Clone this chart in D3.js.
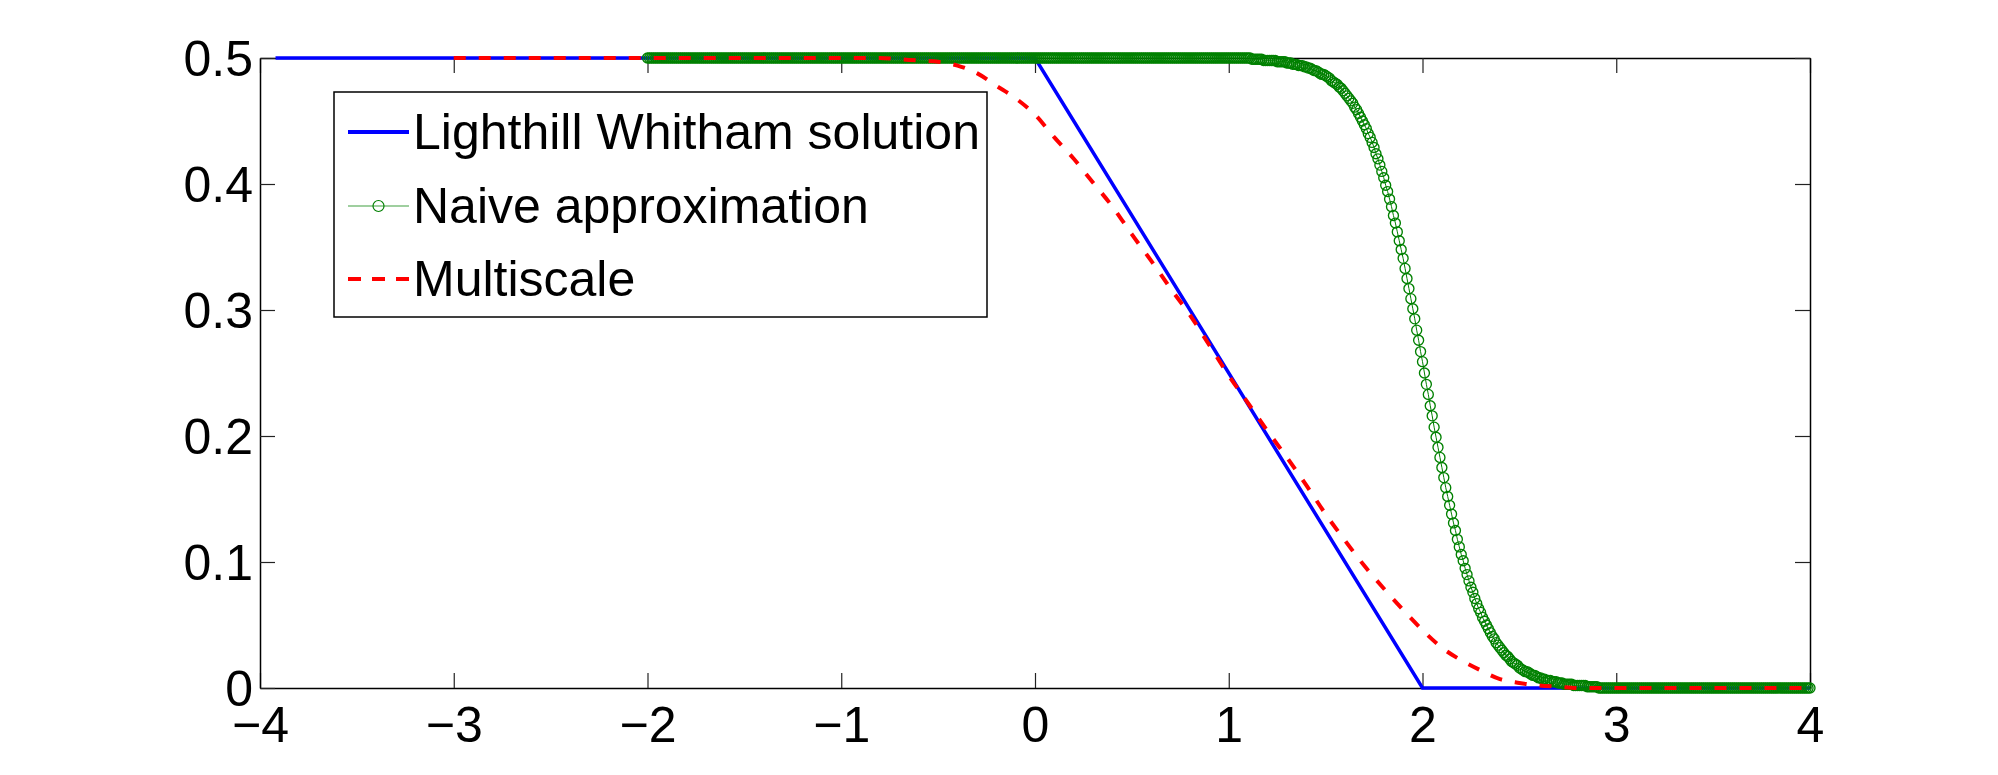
<!DOCTYPE html>
<html>
<head>
<meta charset="utf-8">
<script src="https://cdn.jsdelivr.net/npm/d3@7"></script>
<style>
  html, body { margin: 0; padding: 0; background: #fff; }
  svg { display: block; }
  text { font-family: "Liberation Sans", Arial, Helvetica, sans-serif; }
</style>
</head>
<body>
<svg id="chart" width="1998" height="775"></svg>
<script>
// ---------------- DATA ----------------
const xTicks = [-4, -3, -2, -1, 0, 1, 2, 3, 4];
const yTicks = [0, 0.1, 0.2, 0.3, 0.4, 0.5];
const legendLabels = ["Lighthill Whitham solution", "Naive approximation", "Multiscale"];

// Lighthill Whitham solution (piecewise linear)
const lwX = [-3.92, 0, 2, 4];
const lwY = [0.5, 0.5, 0, 0];

// Naive approximation: samples every 0.01 from x = -2 to x = 4
const naiveXStart = -2, naiveXStep = 0.01;
const naiveY = [
.5,.5,.5,.5,.5,.5,.5,.5,.5,.5,.5,.5,.5,.5,.5,.5,.5,.5,.5,.5,
.5,.5,.5,.5,.5,.5,.5,.5,.5,.5,.5,.5,.5,.5,.5,.5,.5,.5,.5,.5,
.5,.5,.5,.5,.5,.5,.5,.5,.5,.5,.5,.5,.5,.5,.5,.5,.5,.5,.5,.5,
.5,.5,.5,.5,.5,.5,.5,.5,.5,.5,.5,.5,.5,.5,.5,.5,.5,.5,.5,.5,
.5,.5,.5,.5,.5,.5,.5,.5,.5,.5,.5,.5,.5,.5,.5,.5,.5,.5,.5,.5,
.5,.5,.5,.5,.5,.5,.5,.5,.5,.5,.5,.5,.5,.5,.5,.5,.5,.5,.5,.5,
.5,.5,.5,.5,.5,.5,.5,.5,.5,.5,.5,.5,.5,.5,.5,.5,.5,.5,.5,.5,
.5,.5,.5,.5,.5,.5,.5,.5,.5,.5,.5,.5,.5,.5,.5,.5,.5,.5,.5,.5,
.5,.5,.5,.5,.5,.5,.5,.5,.5,.5,.5,.5,.5,.5,.5,.5,.5,.5,.5,.5,
.5,.5,.5,.5,.5,.5,.5,.5,.5,.5,.5,.5,.5,.5,.5,.5,.5,.5,.5,.5,
.5,.5,.5,.5,.5,.5,.5,.5,.5,.5,.5,.5,.5,.5,.5,.5,.5,.5,.5,.5,
.5,.5,.5,.5,.5,.5,.5,.5,.5,.5,.5,.5,.5,.5,.5,.5,.5,.5,.5,.5,
.5,.5,.5,.5,.5,.5,.5,.5,.5,.5,.5,.5,.5,.5,.5,.5,.5,.5,.5,.5,
.5,.5,.5,.5,.5,.5,.5,.5,.5,.5,.5,.5,.5,.5,.5,.5,.5,.5,.5,.5,
.5,.5,.5,.5,.5,.5,.5,.5,.5,.5,.5,.5,.5,.5,.5,.5,.5,.5,.5,.5,
.5,.5,.5,.5,.5,.5,.5,.5,.5,.5,.5,.5,
.499,.499,.499,.499,.499,.499,
.498,.498,.498,.498,.498,.498,.498,
.497,.497,.497,.497,.497,
.496,.496,.496,.495,.495,.495,.494,.494,.494,
.493,.493,.492,.492,.491,.490,.490,.489,.488,.487,.487,.486,
.485,.484,.482,.481,.480,.479,.477,.476,.474,.472,
.470,.468,.466,.464,.461,.459,.456,.453,.450,.447,
.444,.440,.437,.433,.429,.424,.420,.415,.410,.405,
.399,.394,.388,.382,.375,.369,.362,.355,.348,.341,
.333,.325,.317,.309,.301,.293,.284,.276,.267,.259,
.250,.241,.233,.224,.216,.207,.199,.191,.183,.175,
.167,.159,.152,.145,.138,.131,.125,.118,.112,.106,
.101,.095,.090,.085,.080,.076,.071,.067,.063,.060,
.056,.053,.050,.047,.044,.041,.039,.036,.034,.032,
.030,.028,.026,.025,.023,.021,.020,.019,.018,.016,
.015,.014,.013,.013,.012,.011,.010,.010,.009,.008,
.008,.007,.007,.006,.006,.006,.005,.005,.005,.004,
.004,.004,.003,.003,.003,.003,.003,.002,.002,.002,
.002,.002,.002,.002,.001,.001,.001,.001,.001,.001,
0,0,0,0,0,0,0,0,0,0,
0,0,0,0,0,0,0,0,0,0,
0,0,0,0,0,0,0,0,0,0,
0,0,0,0,0,0,0,0,0,0,
0,0,0,0,0,0,0,0,0,0,
0,0,0,0,0,0,0,0,0,0,
0,0,0,0,0,0,0,0,0,0,
0,0,0,0,0,0,0,0,0,0,
0,0,0,0,0,0,0,0,0,0,
0,0,0,0,0,0,0,0,0,0,
0,0,0,0,0,0,0,0,0,0
];

// Multiscale
const msX = [
-3.0,-2.9,-2.8,-2.7,-2.6,-2.5,-2.4,-2.3,-2.2,-2.1,
-2.0,-1.9,-1.8,-1.7,-1.6,-1.5,-1.4,-1.3,-1.2,-1.1,
-1.0,-0.9,-0.8,-0.7,-0.6,-0.5,-0.4,-0.3,-0.2,-0.1,
0.0,0.1,0.2,0.3,0.4,0.5,0.6,0.7,0.8,0.9,
1.0,1.1,1.2,1.3,1.4,1.5,1.6,1.7,1.8,1.9,
2.0,2.1,2.2,2.3,2.4,2.5,2.6,2.7,2.8,2.9,
3.0,3.1,3.2,3.3,3.4,3.5,3.6,3.7,3.8,3.9,4.0];
const msY = [
.5,.5,.5,.5,.5,.5,.5,.5,.5,.5,
.5,.5,.5,.5,.5,.5,.5,.5,.5,.5,
.5,.5,.5,.499,.498,.497,.494,.488,.478,.468,
.455,.437,.420,.401,.382,.360,.339,.317,.296,.272,
.248,.226,.204,.183,.161,.138,.117,.097,.079,.062,
.046,.032,.022,.014,.007,.004,.002,.001,0,0,
0,0,0,0,0,0,0,0,0,0,0];

// ---------------- LAYOUT ----------------
const svg = d3.select("#chart");
const L = 260, R = 1810, T = 58, B = 688;
const x = d3.scaleLinear().domain([-4, 4]).range([L, R]);
const y = d3.scaleLinear().domain([0, 0.5]).range([B, T]);
const tickLen = 15;
const fontSize = 50;

svg.append("rect").attr("width", 1998).attr("height", 775).attr("fill", "#fff");

// axes (inward ticks on all sides)
const fmtX = d => (d < 0 ? "\u2212" + Math.abs(d) : String(d));
const fmtY = d => (d === 0 ? "0" : d3.format(".1f")(d));

const gx = svg.append("g").attr("transform", `translate(0,${B})`)
  .call(d3.axisBottom(x).tickValues(xTicks).tickFormat(fmtX).tickSizeInner(-tickLen).tickSizeOuter(0).tickPadding(24));
const gxTop = svg.append("g").attr("transform", `translate(0,${T})`)
  .call(d3.axisTop(x).tickValues(xTicks).tickFormat("").tickSizeInner(-tickLen).tickSizeOuter(0));
const gy = svg.append("g").attr("transform", `translate(${L},0)`)
  .call(d3.axisLeft(y).tickValues(yTicks).tickFormat(fmtY).tickSizeInner(-tickLen).tickSizeOuter(0).tickPadding(8));
const gyR = svg.append("g").attr("transform", `translate(${R},0)`)
  .call(d3.axisRight(y).tickValues(yTicks).tickFormat("").tickSizeInner(-tickLen).tickSizeOuter(0));

[gx, gxTop, gy, gyR].forEach(g => {
  g.select(".domain").attr("stroke", "#000").attr("stroke-width", 1.5);
  g.selectAll(".tick line").attr("stroke", "#222").attr("stroke-width", 1.2);
  g.selectAll(".tick text").attr("fill", "#000")
    .style("font-family", '"Liberation Sans", Arial, sans-serif')
    .style("font-size", fontSize + "px");
});
gx.selectAll(".tick text").attr("dy", null).attr("y", tickLen + 39).attr("dominant-baseline", "alphabetic");
gy.selectAll(".tick text").attr("dy", null).attr("y", 17).attr("x", -7).attr("dominant-baseline", "alphabetic");

// ---------------- SERIES ----------------
const lwData = lwX.map((v, i) => [v, lwY[i]]);
const naiveData = naiveY.map((v, i) => [naiveXStart + i * naiveXStep, v]);
const msData = msX.map((v, i) => [v, msY[i]]);

const line = d3.line().x(d => x(d[0])).y(d => y(d[1]));
const smooth = d3.line().x(d => x(d[0])).y(d => y(d[1])).curve(d3.curveMonotoneX);

svg.append("path").datum(lwData).attr("d", line)
  .attr("fill", "none").attr("stroke", "#0000ff").attr("stroke-width", 3.5);

const green = "#008000";
svg.append("path").datum(naiveData).attr("d", line)
  .attr("fill", "none").attr("stroke", green).attr("stroke-width", 1);
svg.append("g").selectAll("circle").data(naiveData).join("circle")
  .attr("cx", d => x(d[0])).attr("cy", d => y(d[1])).attr("r", 5)
  .attr("fill", "none").attr("stroke", green).attr("stroke-width", 1.35);

svg.append("path").datum(msData).attr("d", smooth)
  .attr("fill", "none").attr("stroke", "#ff0000").attr("stroke-width", 4)
  .attr("stroke-dasharray", "12,13");

// ---------------- LEGEND ----------------
const lg = svg.append("g");
lg.append("rect").attr("x", 334).attr("y", 92).attr("width", 653).attr("height", 225)
  .attr("fill", "#fff").attr("stroke", "#000").attr("stroke-width", 1.5);
const rowY = [132, 206, 279];
const sx0 = 348, sx1 = 409;
lg.append("line").attr("x1", sx0).attr("x2", sx1).attr("y1", rowY[0]).attr("y2", rowY[0])
  .attr("stroke", "#0000ff").attr("stroke-width", 4);
lg.append("line").attr("x1", sx0).attr("x2", sx1).attr("y1", rowY[1]).attr("y2", rowY[1])
  .attr("stroke", green).attr("stroke-width", 1.2).attr("stroke-opacity", 0.75);
lg.append("circle").attr("cx", (sx0 + sx1) / 2).attr("cy", rowY[1]).attr("r", 5.5)
  .attr("fill", "none").attr("stroke", green).attr("stroke-width", 1.2);
lg.append("line").attr("x1", sx0).attr("x2", sx1).attr("y1", rowY[2]).attr("y2", rowY[2])
  .attr("stroke", "#ff0000").attr("stroke-width", 4).attr("stroke-dasharray", "13,11");
lg.selectAll("text.lbl").data(legendLabels).join("text").attr("class", "lbl")
  .attr("x", 413).attr("y", (d, i) => rowY[i] + 17)
  .attr("font-size", fontSize).attr("fill", "#000").text(d => d);
</script>
</body>
</html>
